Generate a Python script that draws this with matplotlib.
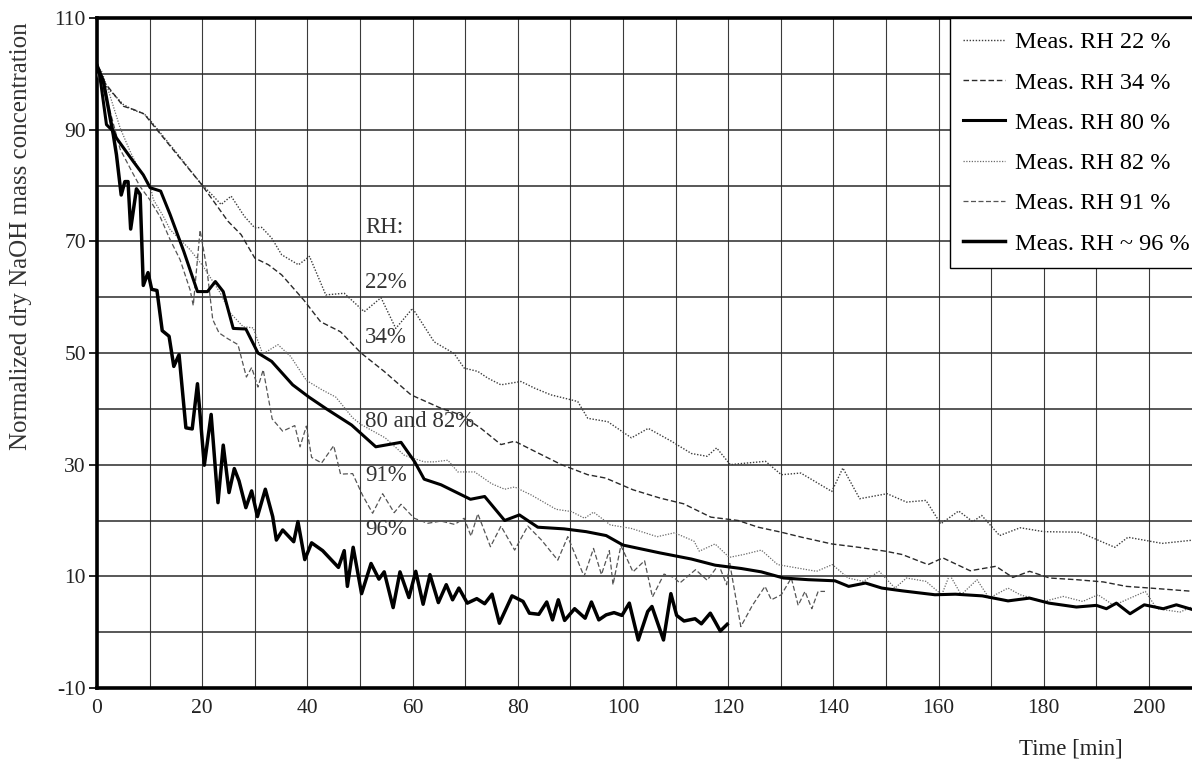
import matplotlib
matplotlib.use("Agg")
import matplotlib.pyplot as plt
from matplotlib.ticker import FixedLocator, MultipleLocator

plt.rcParams['font.family'] = ['Liberation Serif', 'DejaVu Serif']
plt.rcParams['axes.unicode_minus'] = False

# ---------------- data ----------------
t22 = [0, 2, 5, 7, 9, 10, 15, 19.7, 21.7, 23.6, 25.5, 28, 30, 31.3, 33.2, 35.1, 38.3, 40.4, 43.5, 47,
       50.8, 54, 56.8, 60, 64.1, 67.9, 69.8, 72.4, 74.3, 76.8, 80.6, 83.2, 86.3, 90.2, 91.4, 93.3, 97.1,
       101.6, 104.8, 109.2, 113, 116, 117.8, 120.4, 122.5, 127.1, 130.1, 133.8, 139.7, 141.8, 145, 150.2,
       153.9, 157.6, 160.4, 163.8, 166.5, 168.2, 171.6, 175.5, 180, 186.8, 193.5, 196, 202.5, 208.5]
y22 = [100, 97.5, 94.5, 93.5, 92.8, 91.8, 86, 80.4, 78.5, 76.6, 78.1, 74.5, 72.4, 72.5, 70.6, 67.6, 65.8,
       67.3, 60.4, 60.7, 57.4, 59.9, 54.4, 58, 52, 49.9, 47.3, 46.7, 45.5, 44.3, 44.9, 43.7, 42.5, 41.6, 41.3,
       38.3, 37.7, 34.8, 36.5, 34.2, 32, 31.5, 33, 30, 30.2, 30.6, 28.2, 28.5, 25.2, 29.4, 23.9, 24.8, 23.3,
       23.6, 19.4, 21.7, 19.8, 20.9, 17.3, 18.7, 18, 17.9, 15.2, 17, 15.9, 16.5]

t34 = [0, 2, 5, 7, 9, 10, 15, 19.7, 21.7, 24.9, 27.4, 30, 32.6, 35.1, 39.3, 42.5, 46.3, 50.2, 54.6, 59.7,
       65.4, 69.2, 73, 76.8, 79.4, 83.2, 88.3, 93.3, 96.7, 101.9, 107.1, 111.5, 116.7, 121.9, 125.7, 130.1,
       134, 139.7, 144.8, 149.9, 153.1, 158, 160.8, 166, 170.9, 174.1, 177.3, 181.1, 186.2, 191.3, 195.7,
       200.2, 208.5]
y34 = [100, 97.8, 94.2, 93.6, 92.8, 91.6, 85.8, 80.4, 77.8, 73.6, 71.2, 67, 65.8, 64, 59.5, 55.6, 53.8, 50,
       46.7, 42.5, 40.1, 38.9, 36.5, 33.6, 34.2, 32.4, 30, 28.2, 27.6, 25.5, 24, 23, 20.6, 20, 18.8, 17.9, 17,
       15.8, 15.2, 14.5, 13.9, 12.1, 13.3, 11, 11.8, 9.8, 10.9, 9.7, 9.4, 9.0, 8.2, 7.9, 7.3]

t80 = [0, 0.5, 1.8, 3.1, 3.7, 6.9, 8.8, 10.1, 12.1, 13.9, 16.5, 19.1, 21, 22.5, 24, 25.9, 28.3, 30.6, 33.2,
       37.2, 40.3, 43.6, 48.4, 53, 57.8, 60.4, 62.2, 65.4, 71, 73.7, 77.5, 80.3, 83.8, 88.8, 93, 96.8, 100,
       107, 113, 117.5, 122.5, 126.3, 130.5, 135.2, 140.3, 142.9, 146.1, 149.2, 153.1, 159.3, 163.2, 168.3,
       173.2, 177.3, 181, 186.2, 190, 191.9, 193.8, 196.4, 199.1, 202.7, 205.2, 208.8]
y80 = [101.5, 99.9, 90.9, 89.7, 88.5, 84.3, 81.9, 79.6, 79, 74.8, 68.2, 61, 61, 62.8, 61, 54.4, 54.3, 50,
       48.5, 44.3, 42.1, 40, 37.1, 33.2, 34, 30.5, 27.4, 26.4, 23.8, 24.3, 20, 21, 18.8, 18.5, 18, 17.3, 15.6,
       14.2, 13.1, 12, 11.4, 10.8, 9.7, 9.4, 9.2, 8.2, 8.8, 7.9, 7.4, 6.7, 6.8, 6.5, 5.6, 6.1, 5.2, 4.5, 4.8,
       4.2, 5.2, 3.3, 4.9, 4.2, 4.9, 3.9]

t82 = [0, 0.8, 2.4, 4.4, 6.3, 8.2, 10.1, 10.7, 12.6, 13.9, 15.8, 17.7, 20.2, 23.4, 25.3, 27.8, 29.7, 31.5,
       34.4, 36.8, 39.8, 42.6, 45.4, 48.6, 50.2, 54.8, 58.4, 62.2, 64.1, 66.7, 68.6, 71.8, 75, 77.5, 79.4,
       82.5, 87.3, 90.2, 92.7, 94.4, 97.6, 101.5, 106.5, 109.8, 113.5, 114.5, 117.5, 120.2, 122.9, 126.3,
       129.4, 133.1, 136.8, 139.8, 142.8, 145.7, 148.7, 151.7, 153.9, 157.6, 160.6, 162.1, 164.3, 167.3,
       169.6, 173.2, 175.5, 180, 183.7, 187.4, 190.3, 193.3, 199.3, 201.5, 205.9, 208.8]
y82 = [101, 100.7, 96.3, 90.3, 86.1, 82.5, 80.1, 77.5, 74.5, 72.1, 70.3, 68.5, 65.5, 60.8, 57.2, 54.7, 54.5,
       49.8, 51.5, 49.4, 45.1, 43.5, 42.1, 38.4, 37.2, 34.8, 31.7, 30.5, 30.5, 30.8, 28.7, 28.7, 26.6, 25.6,
       26, 24.6, 22, 21.6, 20.4, 21.5, 19.2, 18.6, 17.1, 17.8, 16.3, 14.5, 15.8, 13.4, 13.9, 14.7, 12.1, 11.5,
       10.9, 12.1, 9.7, 9.1, 10.9, 7.9, 9.7, 9.1, 6.7, 10.3, 6.7, 9.4, 6.1, 7.9, 6.7, 5.5, 6.4, 5.5, 6.7, 4.8,
       7.3, 4.2, 3.6, 4.8]

t91 = [0, 2, 4.4, 6.8, 8.2, 10, 12, 13.9, 15.8, 17.7, 18.3, 19.6, 20.9, 22, 23.2, 24.8, 26.8, 28.4, 29.4,
       30.6, 31.6, 33.3, 35.3, 37.6, 38.6, 39.8, 40.8, 42.7, 45, 46.3, 48.6, 50.5, 52.4, 54.3, 56.5, 57.8,
       60.3, 62.9, 65.4, 68, 69.8, 71.1, 72.4, 74.8, 76.8, 79.4, 81.9, 84.5, 87.6, 89.5, 92.6, 94.4, 95.9,
       97.4, 98.1, 99.6, 101.9, 104.1, 105.6, 107.8, 109.7, 110.8, 113.8, 116, 118.2, 119.7, 120.3, 122.4,
       124.6, 127, 128.2, 130.1, 132, 133.3, 134.6, 135.9, 137.1, 138.4]
y91 = [100, 95, 86.5, 82.2, 79.8, 77.5, 74.4, 70.3, 66.7, 61.3, 58.5, 72, 65, 56, 53.6, 52.6, 51.5, 45.7,
       47.4, 43.9, 47, 38.2, 36, 37, 33.2, 36.9, 31.3, 30.3, 33.4, 28.3, 28.4, 24.5, 21.3, 24.8, 21.4, 22.9,
       20.4, 19.5, 19.9, 19.3, 20.4, 17.2, 21.2, 15.3, 19, 14.7, 19, 16.5, 12.9, 17.1, 10, 15, 10.3, 14.6,
       8.5, 15.5, 10.8, 12.8, 6.3, 10.4, 9.8, 8.8, 11.2, 9.3, 12.1, 8.5, 12.3, 1, 4.8, 8.2, 5.8, 6.7, 9.7,
       4.8, 7.3, 4.2, 7.3, 7.3]

t96 = [0, 1.2, 3.1, 3.7, 4.6, 5.3, 5.9, 6.4, 7.5, 8.2, 8.8, 9.7, 10.4, 11.4, 12.4, 13.7, 14.6, 15.6, 16.9,
       18.1, 19.1, 20.4, 21.7, 23, 24, 25.1, 26.1, 27, 28.3, 29.4, 30.5, 32, 33.4, 34.1, 35.3, 37.4, 38.2,
       39.5, 40.8, 42.9, 45.9, 47, 47.6, 48.7, 50.3, 52.1, 53.6, 54.6, 56.3, 57.6, 59.3, 60.6, 62, 63.3, 64.9,
       66.4, 67.6, 68.8, 70.4, 72.2, 73.7, 75.1, 76.5, 78.9, 81, 82.2, 84, 85.5, 86.6, 87.7, 88.9, 90.8, 92.8,
       94, 95.4, 96.8, 98.3, 99.8, 101.2, 102.9, 104.7, 105.5, 107.7, 109.1, 110.2, 111.6, 113.7, 114.9,
       116.6, 117.5, 118.5, 119.8]
y96 = [101.5, 98.7, 89.1, 85.5, 78.3, 80.7, 80.7, 72.2, 79.4, 78.4, 62.1, 64.4, 61.4, 61.2, 54, 53, 47.6,
       49.7, 36.6, 36.4, 44.5, 29.9, 39, 23.2, 33.5, 25, 29.3, 27.1, 22.3, 25.3, 20.7, 25.6, 20.7, 16.5, 18.3,
       16.2, 19.8, 13, 16, 14.6, 11.6, 14.6, 8.2, 15.2, 6.9, 12.3, 9.5, 10.8, 4.4, 10.8, 6.2, 10.9, 5, 10.3,
       5.3, 8.5, 5.8, 7.9, 5.2, 6, 5.1, 6.8, 1.6, 6.5, 5.5, 3.4, 3.2, 5.4, 2.2, 5.8, 2.1, 4.2, 2.5, 5.4, 2.2,
       3.1, 3.5, 3, 5.2, -1.4, 3.7, 4.6, -1.4, 6.9, 3, 2, 2.4, 1.5, 3.4, 1.9, 0.2, 1.4]

labels = ["Meas. RH 22 %", "Meas. RH 34 %", "Meas. RH 80 %",
          "Meas. RH 82 %", "Meas. RH 91 %", "Meas. RH ~ 96 %"]
annot_text = ["RH:", "22%", "34%", "80 and 82%", "91%", "96%"]
annot_y = [72.5, 62.6, 52.7, 37.7, 28.0, 18.3]
annot_x = 51

x_ticks = list(range(0, 201, 20))
y_ticks = list(range(-10, 111, 20))

# ---------------- figure ----------------
fig = plt.figure(figsize=(11.92, 7.65), dpi=100)
ax = fig.add_axes([97 / 1192, 77 / 765, 1 - 97 / 1192, 670 / 765])

ax.plot(t22, y22, color='#3c3c3c', lw=1.0, ls=(0, (1, 1.2)), label=labels[0], zorder=3)
ax.plot(t34, y34, color='#2a2a2a', lw=1.0, ls=(0, (4, 2)), label=labels[1], zorder=3)
ax.plot(t80, y80, color='black', lw=2.2, ls='-', label=labels[2], zorder=4)
ax.plot(t82, y82, color='#6a6a6a', lw=0.9, ls=(0, (1, 1.2)), label=labels[3], zorder=3)
ax.plot(t91, y91, color='#555555', lw=0.9, ls=(0, (4, 2)), label=labels[4], zorder=3)
ax.plot(t96, y96, color='black', lw=2.5, ls='-', label=labels[5], zorder=4)

ax.set_xlim(0, (1192 - 97) / 5.26)
ax.set_ylim(-10, 110)

ax.xaxis.set_major_locator(FixedLocator(x_ticks))
ax.xaxis.set_minor_locator(MultipleLocator(10))
ax.yaxis.set_major_locator(FixedLocator(y_ticks))
ax.yaxis.set_minor_locator(MultipleLocator(10))

ax.xaxis.grid(True, which='both', color='#3a3a3a', lw=0.8, zorder=1)
ax.yaxis.grid(True, which='both', color='#2a2a2a', lw=1.1, zorder=1)
ax.set_axisbelow(True)

ax.tick_params(axis='x', which='both', length=0, pad=8, labelsize=15.5, labelcolor='#222222')
ax.tick_params(axis='y', which='major', length=6, width=1.2, pad=2, labelsize=15.5,
               direction='out', labelcolor='#222222')
ax.tick_params(axis='y', which='minor', length=0)

for side in ['left', 'top', 'bottom']:
    ax.spines[side].set_linewidth(2.6)
    ax.spines[side].set_color('black')
ax.spines['right'].set_visible(False)

ax.set_ylabel("Normalized dry NaOH mass concentration", fontsize=18, color='#333333')
ax.yaxis.set_label_coords(-0.059, 0.675)
ax.set_xlabel("Time [min]", fontsize=16.5, color='#222222')
ax.xaxis.set_label_coords(0.889, -0.076)

for txt, yy in zip(annot_text, annot_y):
    ax.text(annot_x, yy, txt, fontsize=16.5, color='#333333', ha='left', va='center', zorder=5)

leg = ax.legend(loc='upper left', bbox_to_anchor=((950 - 97) / 1095, 1.0), fontsize=17.5,
                frameon=True, fancybox=False, framealpha=1, edgecolor='black',
                handlelength=1.7, handletextpad=0.42, labelspacing=0.75, borderpad=0.55,
                borderaxespad=0)
leg.get_frame().set_linewidth(1.0)
leg.set_zorder(6)

fig.savefig("out.png", dpi=100)
